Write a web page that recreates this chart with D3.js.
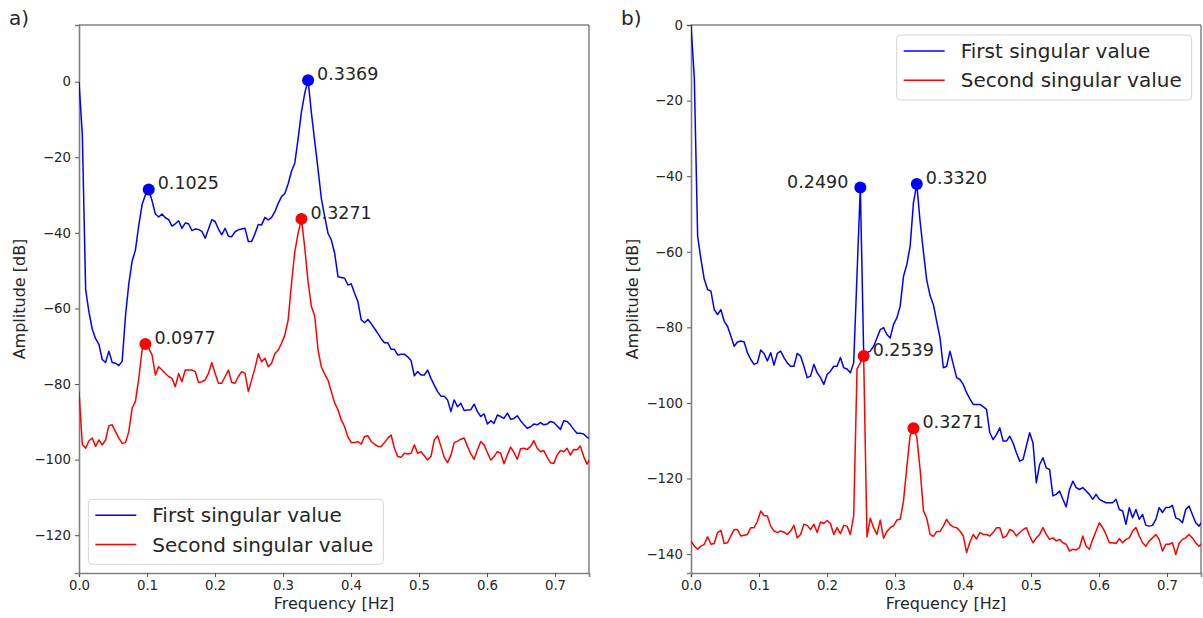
<!DOCTYPE html>
<html>
<head>
<meta charset="utf-8">
<title>Singular value spectra</title>
<script src="https://cdn.jsdelivr.net/npm/d3@7"></script>
<style>
  body { margin: 0; background: #fff; }
  text { font-family: "DejaVu Sans", sans-serif; fill: #262626; }
</style>
</head>
<body>
<script>
// frequency bin width [Hz]
var df = 10 / 2048;

// panel a)
var blueA = [
  0, -14, -55, -61, -65.5, -68, -69.5, -73.5, -74.3, -71.3,
  -74.3, -74.5, -75.1, -74, -62, -53.5, -47.5, -44.5, -38, -32.5,
  -30, -28.5, -31.5, -35, -35.8, -35, -36, -36.5, -38.2, -37.6,
  -36.8, -38.8, -37.4, -37.6, -39.4, -39, -39.1, -39.6, -41.4, -39,
  -36.5, -37, -39, -40.5, -38.8, -40.9, -41, -39.7, -39.2, -39,
  -38.8, -42.3, -42.3, -40.2, -37.8, -37.9, -35.9, -36.6, -35.9, -34.4,
  -32.2, -30.4, -29.6, -27, -23.7, -21.5, -15, -8, -3, 0.4,
  -8.3, -15.8, -23.2, -31, -35.7, -40.1, -41.9, -45.4, -51.6, -51.8,
  -52, -53.8, -53.5, -56, -58.2, -63, -63.8, -62.9, -64, -65.3,
  -66.6, -68, -69.1, -69.1, -70.8, -70.8, -72.3, -72.1, -72.1, -72.8,
  -73.8, -77.8, -76.7, -77.6, -77.6, -76.3, -78.5, -80.3, -82, -83.2,
  -83.2, -84.2, -87.3, -84.2, -86, -85.1, -87, -86.9, -86.8, -85.3,
  -87.3, -88.6, -87.9, -90.6, -89.7, -90.4, -88.2, -88.6, -89.1, -87.7,
  -89.3, -89.1, -88.4, -89.7, -90.8, -91.7, -91.3, -90.6, -90.8, -90.2,
  -90.8, -90.6, -89.9, -90.2, -91.1, -92, -89.7, -89.9, -90.8, -92,
  -93, -93, -93.2, -94.1, -94.5
];
var redA = [
  -82, -96, -97, -95, -94.3, -96.5, -94.8, -96.1, -94.8, -91,
  -90.8, -92.6, -94.3, -95.7, -95.5, -92.6, -86.4, -84.6, -78.5, -71,
  -69.4, -70.5, -72.3, -77.6, -75.4, -76.3, -77.2, -78, -78.5, -80.7,
  -77.2, -79.4, -76.3, -76.3, -76.3, -76.7, -79.6, -79.4, -78.9, -77.2,
  -74.3, -77.2, -79.8, -79.8, -78, -76.3, -79.6, -79.8, -78, -76.7,
  -77.2, -82, -78.9, -75.8, -72, -74.1, -73.2, -75.4, -74.5, -71.9,
  -71, -69.2, -67, -63, -53.4, -45, -40, -36.3, -44, -53,
  -59.5, -62, -71, -75.5, -77.4, -79, -82, -85, -86.8, -89.5,
  -91.3, -94, -95.5, -95.5, -95.2, -95.9, -93.9, -93.7, -95.2, -95.9,
  -96.5, -96.5, -95.5, -94.3, -93.5, -97, -99.2, -99.4, -98.3, -98.5,
  -98.3, -96.1, -98.3, -97.9, -99, -100.1, -99.2, -94.8, -93.7, -96.5,
  -99.4, -100.8, -98.8, -95.5, -95.1, -94.6, -94.3, -96.5, -98.5, -99.9,
  -97.4, -95.2, -96.1, -98.1, -100.1, -99.2, -97.9, -98.3, -101.1, -98.8,
  -96.7, -98.1, -99.9, -97.1, -97, -97.3, -96.5, -95, -97, -97.9,
  -97.6, -99.4, -100.8, -101, -98.8, -97.6, -97.9, -97, -98.8, -97.3,
  -97.4, -96.4, -99.2, -101.2, -99.6
];

// panel b)
var blueB = [
  0, -14, -55.9, -62, -67.3, -70, -70.4, -75.3, -76.6, -75.3,
  -78.4, -79.7, -82.3, -85, -83.9, -83.6, -83.9, -86.7, -88.5, -89.8,
  -89.4, -86, -86.9, -88.9, -86.7, -90, -86.9, -86.3, -88, -89.4,
  -90.3, -90.3, -86.9, -87.6, -90.3, -93.3, -92.9, -89.8, -92, -93.3,
  -95.1, -92.5, -91.6, -90.3, -90.3, -88, -90.7, -91, -92, -89.4,
  -66, -43, -86.5, -86.7, -86.3, -85, -82.8, -80.6, -80.1, -81.9,
  -82.8, -79.2, -77.5, -74.4, -66.5, -63.4, -58.5, -47, -42.1, -52,
  -60, -67.5, -71.6, -74, -78.4, -82.8, -90.7, -90.3, -86.3, -89.8,
  -93.3, -93.8, -95.1, -97.3, -98.9, -100.4, -100.4, -100.4, -101, -101.7,
  -107.9, -109.7, -108.4, -106.6, -110.1, -110.1, -108.8, -110.6, -113.2, -115.4,
  -115, -111.4, -107.9, -110.6, -121.1, -116.3, -114.5, -117.2, -117.6, -124.6,
  -124.2, -123.3, -125.5, -127.5, -122.9, -120.7, -122.4, -122.9, -122.4, -123.3,
  -124.2, -125.5, -124.2, -125.5, -126, -126.4, -126.4, -126.4, -125.5, -128.2,
  -128.6, -132.1, -127.7, -130.4, -128.2, -130.8, -129.5, -132.4, -132.6, -132.4,
  -130.8, -127.7, -129, -127.7, -127.7, -127.1, -130.4, -130.8, -131.7, -128.2,
  -127.3, -129.5, -131.7, -132.6, -131.3
];
var redB = [
  -136.5, -137.9, -138.7, -137.9, -137.4, -135.4, -137.4, -137.2, -134.3, -133.7,
  -137.2, -137, -135.2, -133.5, -133.5, -135.2, -135, -134.8, -133, -133,
  -131.3, -128.6, -129.8, -129.9, -132.6, -133.9, -134.3, -133.9, -134.2, -134.8,
  -133.9, -132.4, -135.7, -134.8, -132.1, -132.4, -133.5, -132.1, -134.3, -131.5,
  -131.9, -131.1, -131.9, -134.8, -133, -134.6, -132.4, -132.6, -134.8, -129.9,
  -91, -89.4, -87.6, -135.5, -130.5, -133, -134.8, -131, -135.8, -134,
  -133, -132.5, -131, -130.8, -126, -117, -108.5, -106.7, -109, -117.5,
  -128.5, -130.5, -134.8, -135.3, -134, -134, -132.6, -130.8, -132.2, -132.8,
  -133, -133.9, -135.2, -139.6, -136.8, -134.8, -136, -134.3, -134.8, -134.8,
  -135.2, -134.3, -133, -133, -135.7, -135.2, -133.5, -133.9, -135.2, -134.3,
  -133.5, -133, -135.2, -137, -135.7, -134.8, -133, -134.8, -136.1, -135.7,
  -136.5, -136.1, -137, -137.4, -139.2, -138.7, -138.9, -138.3, -135.2, -137.9,
  -138.7, -136.1, -133.9, -131.7, -133, -134.8, -137, -137, -137.2, -135.9,
  -137, -136.1, -135.7, -133.9, -133, -135.2, -137, -137.9, -136.5, -135.7,
  -134.8, -136.1, -139.2, -137.4, -137.4, -137, -140.1, -137.2, -136.1, -135.7,
  -134.8, -135.7, -137, -137.9, -137
];

// picked peaks: bin index, label side
var peaksBlueA = [21, 69];
var peaksRedA = [20, 67];
var peaksBlueB = [51, 68];
var peaksRedB = [52, 67];
var leftLabelsB = [51];

var xTicks = [0, 0.1, 0.2, 0.3, 0.4, 0.5, 0.6, 0.7];
var yTicksA = [0, -20, -40, -60, -80, -100, -120];
var yTicksB = [0, -20, -40, -60, -80, -100, -120, -140];
var seriesNames = ["First singular value", "Second singular value"];
var colors = ["#0000ff", "#ff0000"];

var svg = d3.select("body").append("svg").attr("width", 1203).attr("height", 618);

function drawPanel(p) {
    var w = 510, h = 548;
    var g = svg.append("g").attr("transform", "translate(" + p.left + "," + p.top + ")");
    var x = d3.scaleLinear().domain([0, 0.75]).range([0, w]);
    var y = d3.scaleLinear().domain(p.yDomain).range([h, 0]);

    g.append("clipPath").attr("id", "clip" + p.id)
        .append("rect").attr("width", w).attr("height", h);

    var xAxis = g.append("g").attr("transform", "translate(0," + h + ")")
        .call(d3.axisBottom(x).tickValues(xTicks).tickFormat(d3.format(".1f")).tickSizeOuter(0).tickSize(4).tickPadding(4));
    var yAxis = g.append("g")
        .call(d3.axisLeft(y).tickValues(p.yTicks).tickFormat(function (d) { return d < 0 ? "\u2212" + (-d) : d; }).tickSizeOuter(0).tickSize(4).tickPadding(4));
    [xAxis, yAxis].forEach(function (a) {
        a.selectAll("text").style("font-size", "13.3px").attr("fill", "#262626");
        a.selectAll("line").attr("stroke", "#555");
        a.select(".domain").attr("stroke", "#808080").attr("stroke-width", 1.6);
    });
    // top and right frame
    g.append("path").attr("d", "M0,0H" + w + "V" + h)
        .attr("fill", "none").attr("stroke", "#444").attr("stroke-width", 1);

    var line = d3.line()
        .x(function (d, i) { return x(i * df); })
        .y(function (d) { return y(d); });

    var plot = g.append("g").attr("clip-path", "url(#clip" + p.id + ")");
    [p.blue, p.red].forEach(function (s, j) {
        plot.append("path").datum(s)
            .attr("d", line).attr("fill", "none")
            .attr("stroke", colors[j]).attr("stroke-width", 1.5)
            .attr("stroke-linejoin", "round");
    });

    [[p.blue, p.peaksBlue, colors[0]], [p.red, p.peaksRed, colors[1]]].forEach(function (set) {
        set[1].forEach(function (k) {
            var cx = x(k * df), cy = y(set[0][k]);
            g.append("circle").attr("cx", cx).attr("cy", cy).attr("r", 6).attr("fill", set[2]);
            var onLeft = p.leftLabels.indexOf(k) >= 0 && set[2] === colors[0];
            g.append("text")
                .attr("x", onLeft ? cx - 12 : cx + 9)
                .attr("y", cy)
                .attr("text-anchor", onLeft ? "end" : "start")
                .style("font-size", "17.5px")
                .text((k * df).toFixed(4));
        });
    });

    // legend
    var lg = g.append("g").attr("transform", "translate(" + p.legend[0] + "," + p.legend[1] + ")");
    lg.append("rect").attr("width", 295).attr("height", 65).attr("rx", 4)
        .attr("fill", "#fff").attr("fill-opacity", 0.8).attr("stroke", "#d6d6d6");
    seriesNames.forEach(function (name, j) {
        var ly = 16 + j * 29.3;
        lg.append("line").attr("x1", 7).attr("x2", 48).attr("y1", ly).attr("y2", ly)
            .attr("stroke", colors[j]).attr("stroke-width", 1.5);
        lg.append("text").attr("x", 64).attr("y", ly + 7).style("font-size", "20px").text(name);
    });

    g.append("text").attr("x", w / 2).attr("y", h + 36).attr("text-anchor", "middle")
        .style("font-size", "16px").text("Frequency [Hz]");
    g.append("text").attr("transform", "translate(" + p.yLabelX + "," + (h / 2) + ") rotate(-90)")
        .attr("text-anchor", "middle").attr("dy", "0.35em")
        .style("font-size", "16px").text("Amplitude [dB]");
    svg.append("text").attr("x", p.tagX).attr("y", 25).style("font-size", "20px").text(p.tag);
}

drawPanel({ id: "a", left: 79, top: 25, yDomain: [-130, 15], yTicks: yTicksA,
    blue: blueA, red: redA, peaksBlue: peaksBlueA, peaksRed: peaksRedA, leftLabels: [],
    legend: [9.3, 474.3], yLabelX: -60, tagX: 9, tag: "a)" });
drawPanel({ id: "b", left: 691, top: 25, yDomain: [-145, 0], yTicks: yTicksB,
    blue: blueB, red: redB, peaksBlue: peaksBlueB, peaksRed: peaksRedB, leftLabels: leftLabelsB,
    legend: [205.7, 10], yLabelX: -58.5, tagX: 621, tag: "b)" });
</script>
</body>
</html>
